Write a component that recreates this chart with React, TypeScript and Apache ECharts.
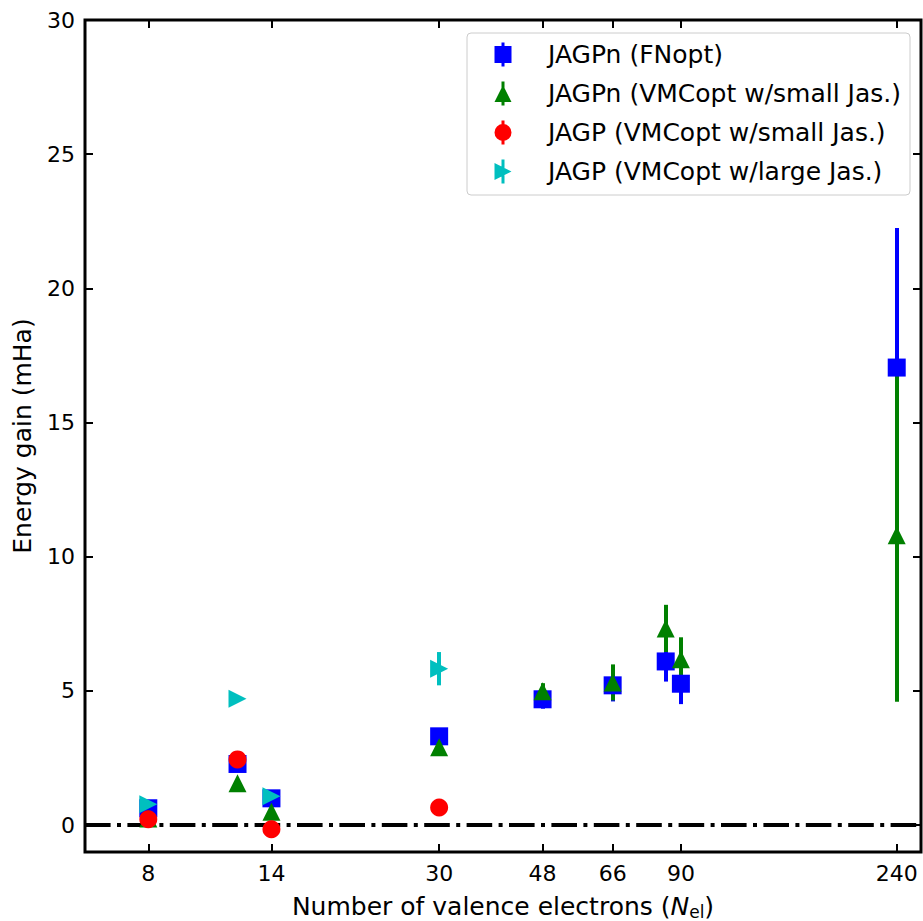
import React, { useEffect, useRef } from 'react';
import * as echarts from 'echarts';

// ---- tick labels ----
const xTickValues = [8, 14, 30, 48, 66, 90, 240];
const yTickValues = [0, 5, 10, 15, 20, 25, 30];

// ---- JAGPn (FNopt) ----
const fnElectrons = [8, 12, 14, 30, 48, 66, 84, 90, 240];
const fnGain = [0.63, 2.28, 1.0, 3.31, 4.69, 5.21, 6.1, 5.27, 17.05];
const fnErr = [0.15, 0.15, 0.15, 0.2, 0.35, 0.6, 0.75, 0.76, 5.2];

// ---- JAGPn (VMCopt w/small Jas.) ----
const vsElectrons = [8, 12, 14, 30, 48, 66, 84, 90, 240];
const vsGain = [0.25, 1.56, 0.5, 2.9, 4.99, 5.32, 7.33, 6.18, 10.8];
const vsErr = [0.1, 0.1, 0.1, 0.15, 0.3, 0.67, 0.88, 0.82, 6.2];

// ---- JAGP (VMCopt w/small Jas.) ----
const jsElectrons = [8, 12, 14, 30];
const jsGain = [0.22, 2.45, -0.15, 0.66];
const jsErr = [0.1, 0.1, 0.1, 0.1];

// ---- JAGP (VMCopt w/large Jas.) ----
const jlElectrons = [8, 12, 14, 30];
const jlGain = [0.78, 4.71, 1.08, 5.83];
const jlErr = [0.1, 0.1, 0.1, 0.62];

const FONT = 'DejaVu Sans';
const X_MIN = 6;
const X_MAX = 268;
const Y_MIN = -1;
const Y_MAX = 30;

const BOX = 'M0,0M66,24';
const BAR = 'M24.5,0H27.5V24H24.5Z';

const groups = [
  {
    name: 'JAGPn (FNopt)',
    color: '#0000ff',
    symbol: 'rect',
    icon: `path://${BOX}M17.5,3.5H34.5V20.5H17.5Z${BAR}`,
    n: fnElectrons,
    g: fnGain,
    e: fnErr,
  },
  {
    name: 'JAGPn (VMCopt w/small Jas.)',
    color: '#008000',
    symbol: 'triangle',
    icon: `path://${BOX}M26,3.5L34.5,20.5L17.5,20.5Z${BAR}`,
    n: vsElectrons,
    g: vsGain,
    e: vsErr,
  },
  {
    name: 'JAGP (VMCopt w/small Jas.)',
    color: '#ff0000',
    symbol: 'circle',
    icon: `path://${BOX}M17.5,12A8.5,8.5 0 1,1 34.5,12A8.5,8.5 0 1,1 17.5,12Z${BAR}`,
    n: jsElectrons,
    g: jsGain,
    e: jsErr,
  },
  {
    name: 'JAGP (VMCopt w/large Jas.)',
    color: '#00bfbf',
    symbol: 'path://M0,0L2,1L0,2Z',
    icon: `path://${BOX}M17.5,3.5L34.5,12L17.5,20.5Z${BAR}`,
    n: jlElectrons,
    g: jlGain,
    e: jlErr,
  },
];

function buildOption(): any {
  const lg = (v: number) => Math.log10(v);
  const tickStyle = { color: '#000', width: 2 };
  const labelBase = { fontFamily: FONT, fontSize: 22, color: '#000' };

  const errSeries = groups.map((grp, i) => ({
    type: 'custom',
    coordinateSystem: 'cartesian2d',
    xAxisIndex: 0,
    yAxisIndex: 0,
    z: 2 + i,
    silent: true,
    encode: { x: 0, y: [1, 2] },
    data: grp.n.map((x, k) => [x, grp.g[k] - grp.e[k], grp.g[k] + grp.e[k]]),
    renderItem: (_p: any, api: any) => {
      const a = api.coord([api.value(0), api.value(1)]);
      const b = api.coord([api.value(0), api.value(2)]);
      const px = Math.round(a[0]);
      return {
        type: 'line',
        shape: { x1: px, y1: a[1], x2: px, y2: b[1] },
        style: { stroke: grp.color, lineWidth: 4 },
      };
    },
  }));

  const markerSeries = groups.map((grp, i) => ({
    type: 'scatter',
    name: grp.name,
    xAxisIndex: 0,
    yAxisIndex: 0,
    z: 6 + i,
    silent: true,
    symbol: grp.symbol,
    symbolSize: 18,
    itemStyle: { color: grp.color, opacity: 1 },
    data: grp.n.map((x, k) => [x, grp.g[k]]),
  }));

  const zeroLine = {
    type: 'line',
    xAxisIndex: 0,
    yAxisIndex: 0,
    z: 1,
    silent: true,
    data: [],
    markLine: {
      silent: true,
      symbol: ['none', 'none'],
      label: { show: false },
      lineStyle: { color: '#000', width: 4, type: [25.6, 6.4, 4, 6.4], cap: 'butt' },
      data: [{ yAxis: 0 }],
      animation: false,
    },
  };

  return {
    animation: false,
    backgroundColor: '#ffffff',
    textStyle: { fontFamily: FONT },
    grid: {
      left: 85,
      top: 20,
      width: 836,
      height: 832,
      show: true,
      borderColor: '#000',
      borderWidth: 3,
      backgroundColor: 'transparent',
      containLabel: false,
      outerBoundsMode: 'none',
    },
    legend: {
      orient: 'vertical',
      left: 467,
      top: 33,
      padding: [9, 9, 11, 10],
      itemWidth: 66,
      itemHeight: 24,
      itemGap: 14,
      selectedMode: false,
      backgroundColor: 'rgba(255,255,255,0.8)',
      borderColor: '#cccccc',
      borderWidth: 1,
      borderRadius: 4,
      textStyle: { fontFamily: FONT, fontSize: 25, color: '#000', lineHeight: 24 },
      data: groups.map((grp) => ({
        name: grp.name,
        icon: grp.icon,
        itemStyle: { color: grp.color, opacity: 1 },
      })),
    },
    xAxis: [
      {
        type: 'log',
        logBase: 10,
        min: X_MIN,
        max: X_MAX,
        show: false,
        position: 'bottom',
        axisLine: { show: false, onZero: false },
        splitLine: { show: false },
      },
      {
        type: 'value',
        position: 'bottom',
        min: lg(X_MIN),
        max: lg(X_MAX),
        axisLine: { show: false, onZero: false },
        splitLine: { show: false },
        axisTick: {
          show: true,
          inside: true,
          length: 8,
          customValues: xTickValues.map(lg),
          lineStyle: tickStyle,
        },
        axisLabel: {
          ...labelBase,
          margin: 10,
          customValues: xTickValues.map(lg),
          formatter: (v: number) => String(Math.round(Math.pow(10, v))),
        },
        name: 'Number of valence electrons ({it|N}{sub|el})',
        nameLocation: 'middle',
        nameGap: 41,
        nameTextStyle: {
          fontFamily: FONT,
          fontSize: 25,
          lineHeight: 27,
          color: '#000',
          rich: {
            it: { fontFamily: FONT, fontSize: 25, lineHeight: 27, fontStyle: 'italic', color: '#000' },
            sub: {
              fontFamily: FONT,
              fontSize: 17,
              lineHeight: 17,
              verticalAlign: 'bottom',
              color: '#000',
            },
          },
        },
      },
      {
        type: 'value',
        position: 'top',
        min: lg(X_MIN),
        max: lg(X_MAX),
        axisLine: { show: false, onZero: false },
        splitLine: { show: false },
        axisTick: {
          show: true,
          inside: true,
          length: 8,
          customValues: xTickValues.map(lg),
          lineStyle: tickStyle,
        },
        axisLabel: { show: false },
      },
    ],
    yAxis: [
      {
        type: 'value',
        position: 'left',
        min: Y_MIN,
        max: Y_MAX,
        axisLine: { show: false, onZero: false },
        splitLine: { show: false },
        axisTick: {
          show: true,
          inside: true,
          length: 8,
          customValues: yTickValues,
          lineStyle: tickStyle,
        },
        axisLabel: { ...labelBase, margin: 10, customValues: yTickValues },
        name: 'Energy gain (mHa)',
        nameLocation: 'middle',
        nameGap: 50,
        nameTextStyle: { fontFamily: FONT, fontSize: 25, color: '#000' },
      },
      {
        type: 'value',
        position: 'right',
        min: Y_MIN,
        max: Y_MAX,
        axisLine: { show: false, onZero: false },
        splitLine: { show: false },
        axisTick: {
          show: true,
          inside: true,
          length: 8,
          customValues: yTickValues,
          lineStyle: tickStyle,
        },
        axisLabel: { show: false },
      },
    ],
    series: [zeroLine, ...errSeries, ...markerSeries],
  };
}

export default function App() {
  const ref = useRef<HTMLDivElement>(null);
  useEffect(() => {
    if (!ref.current) return;
    const chart = echarts.init(ref.current, null, { renderer: 'svg' });
    chart.setOption(buildOption());
    return () => chart.dispose();
  }, []);
  return (
    <div
      ref={ref}
      style={{ position: 'absolute', left: 0, top: 0, width: 923, height: 921, background: '#fff' }}
    />
  );
}
